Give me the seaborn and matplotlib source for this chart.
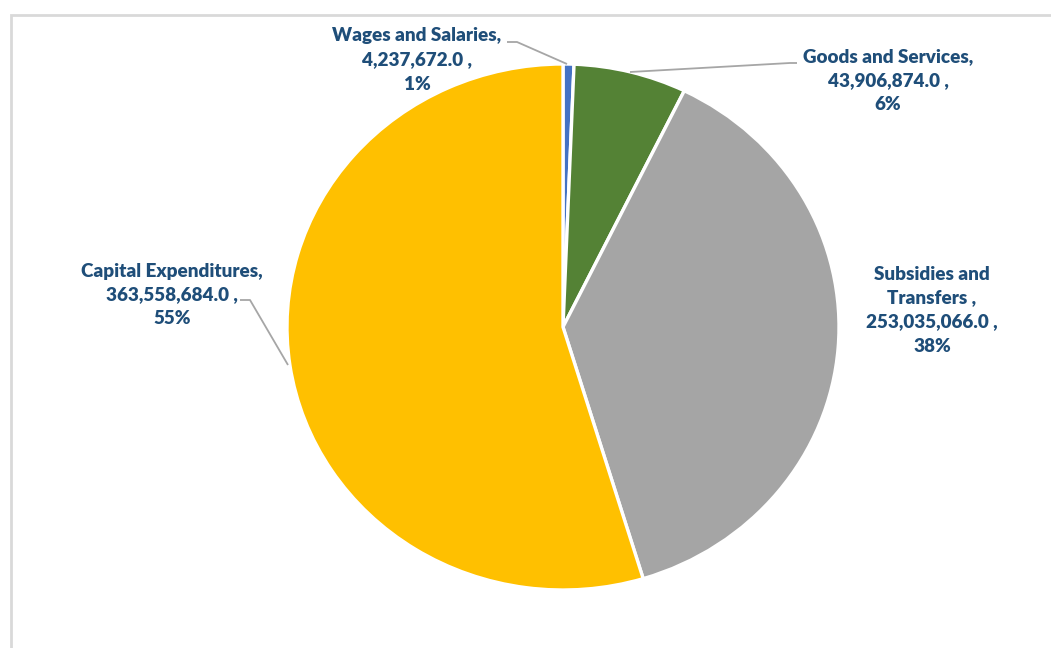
import matplotlib
matplotlib.use("Agg")
import matplotlib.pyplot as plt
import matplotlib.patches as mpatches
import seaborn as sns

# Budget by expenditure category
categories = ["Wages and Salaries", "Goods and Services", "Subsidies and Transfers", "Capital Expenditures"]
amounts = [4237672.0, 43906874.0, 253035066.0, 363558684.0]
percent_labels = ["1%", "6%", "38%", "55%"]
label_names = ["Wages and Salaries,", "Goods and Services,", "Subsidies and\nTransfers ,", "Capital Expenditures,"]
slice_colors = ["#4472C4", "#548235", "#A5A5A5", "#FFC000"]

sns.set_theme(style="white")
plt.rcParams["font.family"] = ["Lato", "DejaVu Sans"]

W, H = 1051, 648
fig = plt.figure(figsize=(W / 100, H / 100), dpi=100)
ax = fig.add_axes([0, 0, 1, 1])

# pixel -> data helpers (pie centre and radii in pixels)
CX, CY, RX, RY = 563, 327, 276, 263
def px(x):
    return (x - CX) / RX
def py(y):
    return (CY - y) / RY

palette = sns.color_palette(slice_colors)
ax.pie(amounts, colors=palette, startangle=90, counterclock=False,
       radius=1.0, center=(0, 0),
       wedgeprops=dict(edgecolor="white", linewidth=2.4))
ax.set_aspect("auto")
ax.set_xlim(px(0), px(W))
ax.set_ylim(py(H), py(0))
ax.axis("off")

label_color = "#1F4E79"

def fmt(v):
    return f"{v:,.1f}"

texts = [f"{label_names[i]}\n{fmt(amounts[i])} ,\n{percent_labels[i]}" for i in range(len(amounts))]

label_pos = [(417, 60), (888, 81), (932, 310), (172, 295)]
for t, (x, y) in zip(texts, label_pos):
    ax.text(px(x), py(y), t, ha="center", va="center", fontsize=13.6,
            fontweight="heavy", color=label_color, linespacing=1.5)

# leader lines
leader_color = "#A6A6A6"
leaders = [
    [(507, 42), (517, 42), (567, 64)],
    [(797, 63), (790, 63), (630, 72)],
    [(240, 300), (250, 300), (288, 365)],
]
for pts in leaders:
    ax.plot([px(p[0]) for p in pts], [py(p[1]) for p in pts],
            color=leader_color, linewidth=1.3, solid_capstyle="butt")

# chart frame
frame = mpatches.Rectangle((11 / W, -0.1), 1.2, (H - 15) / H + 0.1,
                           transform=fig.transFigure, fill=False,
                           edgecolor="#D9D9D9", linewidth=2.0)
fig.patches.append(frame)

fig.savefig("out.png", dpi=100, facecolor="white")
